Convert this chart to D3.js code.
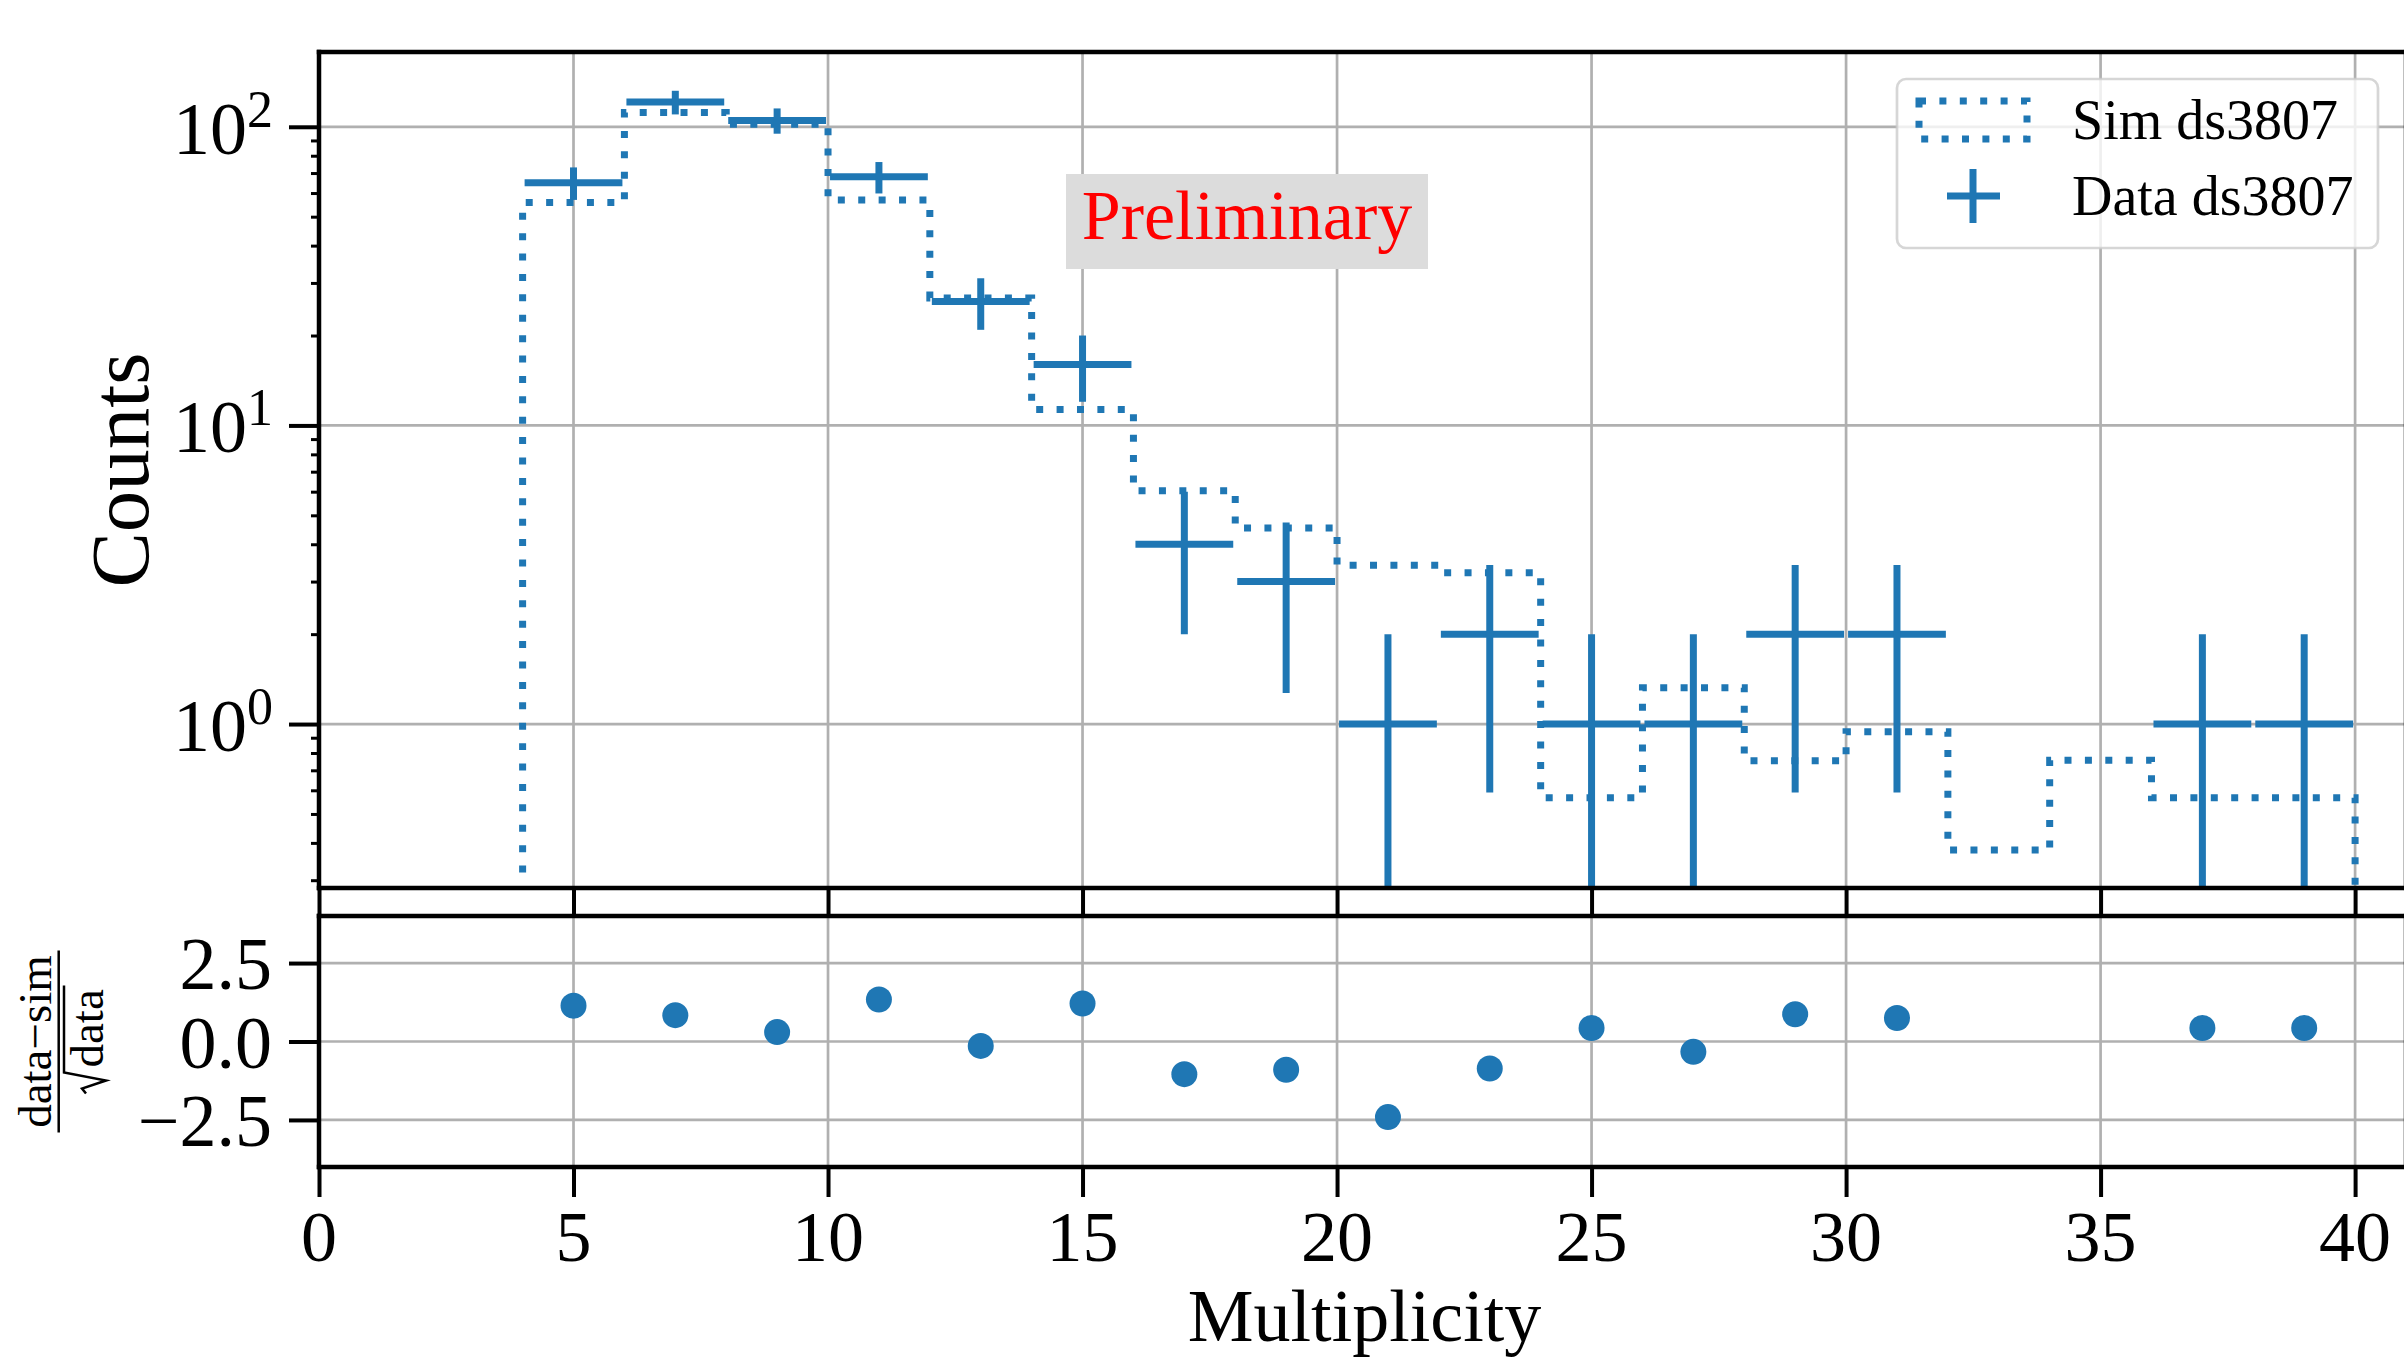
<!DOCTYPE html>
<html>
<head>
<meta charset="utf-8">
<script src="https://cdn.jsdelivr.net/npm/d3@7/dist/d3.min.js"></script>
<style>
  body { margin: 0; background: #fff; }
  svg { display: block; font-family: "Liberation Serif", "DejaVu Serif", serif; }
</style>
</head>
<body>
<svg id="chart" width="2404" height="1358"></svg>
<script>
// bins are 2 wide, centred on odd multiplicities
const binCenters = [5, 7, 9, 11, 13, 15, 17, 19, 21, 23, 25, 27, 29, 31, 33, 35, 37, 39];
const binHalfWidth = 1;
const dataCounts = [65, 121, 105, 68, 26, 16, 4, 3, 1, 2, 1, 1, 2, 2, 0, 0, 1, 1];
const dataErrors = [8.1, 11, 10.2, 8.2, 5.1, 4, 2, 1.73, 1, 1.41, 1, 1, 1.41, 1.41, 0, 0, 1, 1];
const simCounts = [55.8, 111.7, 102, 56.9, 26.7, 11.3, 6.04, 4.53, 3.40, 3.21, 0.567, 1.323, 0.754, 0.943, 0.379, 0.756, 0.567, 0.567];
const residuals = [1.14, 0.84, 0.30, 1.34, -0.14, 1.21, -1.04, -0.90, -2.41, -0.86, 0.43, -0.33, 0.87, 0.75, null, null, 0.43, 0.43];

const xTicks = [0, 5, 10, 15, 20, 25, 30, 35, 40];
const logTicks = [1, 10, 100];
const logTickExp = ["0", "1", "2"];
const logMinor = [0.3, 0.4, 0.5, 0.6, 0.7, 0.8, 0.9, 2, 3, 4, 5, 6, 7, 8, 9, 20, 30, 40, 50, 60, 70, 80, 90];
const resTicks = [-2.5, 0, 2.5];
const resTickLabels = ["\u22122.5", "0.0", "2.5"];

const blue = "#1f77b4";
const gridColor = "#b0b0b0";

const svg = d3.select("#chart");

const x = d3.scaleLinear().domain([0, 41]).range([319, 2406]);
const yMain = d3.scaleLog().domain([0.2825, 178]).range([888, 52]);
const yRes = d3.scaleLinear().domain([-4, 4]).range([1167, 916]);

const mainTop = yMain.range()[1], mainBottom = yMain.range()[0];
const resTop = yRes.range()[1], resBottom = yRes.range()[0];
const left = x.range()[0], right = x.range()[1];

const defs = svg.append("defs");
defs.append("clipPath").attr("id", "clipMain")
  .append("rect").attr("x", left).attr("y", mainTop)
  .attr("width", right - left).attr("height", mainBottom - mainTop);
defs.append("clipPath").attr("id", "clipRes")
  .append("rect").attr("x", left).attr("y", resTop)
  .attr("width", right - left).attr("height", resBottom - resTop);

// ---- grids
function vGrid(top, bottom) {
  svg.append("g").selectAll("line").data(xTicks).join("line")
    .attr("x1", d => x(d)).attr("x2", d => x(d))
    .attr("y1", top).attr("y2", bottom)
    .attr("stroke", gridColor).attr("stroke-width", 2.7);
}
vGrid(mainTop, mainBottom);
vGrid(resTop, resBottom);

svg.append("g").selectAll("line").data(logTicks).join("line")
  .attr("x1", left).attr("x2", right)
  .attr("y1", d => yMain(d)).attr("y2", d => yMain(d))
  .attr("stroke", gridColor).attr("stroke-width", 2.7);

svg.append("g").selectAll("line").data(resTicks).join("line")
  .attr("x1", left).attr("x2", right)
  .attr("y1", d => yRes(d)).attr("y2", d => yRes(d))
  .attr("stroke", gridColor).attr("stroke-width", 2.7);

// ---- simulation step histogram (dotted)
const base = 0.01;
const stepPts = [{ x: binCenters[0] - binHalfWidth, y: base }];
binCenters.forEach((c, i) => stepPts.push({ x: c - binHalfWidth, y: simCounts[i] }));
stepPts.push({ x: binCenters[binCenters.length - 1] + binHalfWidth, y: simCounts[simCounts.length - 1] });
stepPts.push({ x: binCenters[binCenters.length - 1] + binHalfWidth, y: base });

const stepLine = d3.line()
  .x(d => x(d.x))
  .y(d => yMain(d.y))
  .curve(d3.curveStepAfter);

const gMain = svg.append("g").attr("clip-path", "url(#clipMain)");

gMain.append("path")
  .attr("d", stepLine(stepPts))
  .attr("fill", "none")
  .attr("stroke", blue)
  .attr("stroke-width", 7)
  .attr("stroke-dasharray", "7 13.4");

// ---- data error bars
const dataPts = binCenters.map((c, i) => ({ c: c, n: dataCounts[i], e: dataErrors[i] }))
  .filter(d => d.n > 0);

gMain.append("g").selectAll("line").data(dataPts).join("line")
  .attr("x1", d => x(d.c - binHalfWidth) + 2)
  .attr("x2", d => x(d.c + binHalfWidth) - 2)
  .attr("y1", d => yMain(d.n)).attr("y2", d => yMain(d.n))
  .attr("stroke", blue).attr("stroke-width", 7);

gMain.append("g").selectAll("line").data(dataPts).join("line")
  .attr("x1", d => x(d.c)).attr("x2", d => x(d.c))
  .attr("y1", d => yMain(d.n + d.e))
  .attr("y2", d => yMain(Math.max(d.n - d.e, yMain.domain()[0] * 0.5)))
  .attr("stroke", blue).attr("stroke-width", 7);

// ---- residuals
const resPts = binCenters.map((c, i) => ({ c: c, r: residuals[i] })).filter(d => d.r !== null);
svg.append("g").attr("clip-path", "url(#clipRes)")
  .selectAll("circle").data(resPts).join("circle")
  .attr("cx", d => x(d.c)).attr("cy", d => yRes(d.r))
  .attr("r", 13).attr("fill", blue);

// ---- spines
function spine(x1, y1, x2, y2) {
  svg.append("line").attr("x1", x1).attr("y1", y1).attr("x2", x2).attr("y2", y2)
    .attr("stroke", "#000").attr("stroke-width", 4.5).attr("stroke-linecap", "square");
}
spine(left, mainTop, right, mainTop);
spine(left, mainTop, left, mainBottom);
spine(left, mainBottom, right, mainBottom);
spine(right, mainTop, right, mainBottom);
spine(left, resTop, right, resTop);
spine(left, resTop, left, resBottom);
spine(left, resBottom, right, resBottom);
spine(right, resTop, right, resBottom);

// ---- ticks
function cleanAxis(g, w) {
  g.select(".domain").remove();
  g.selectAll(".tick line").attr("stroke", "#000").attr("stroke-width", w);
}

svg.append("g").attr("transform", `translate(${left},0)`)
  .call(d3.axisLeft(yMain).tickValues(logTicks).tickSize(30).tickFormat(""))
  .call(g => cleanAxis(g, 4));
svg.append("g").attr("transform", `translate(${left},0)`)
  .call(d3.axisLeft(yMain).tickValues(logMinor).tickSize(8).tickFormat(""))
  .call(g => cleanAxis(g, 3));
svg.append("g").attr("transform", `translate(0,${mainBottom})`)
  .call(d3.axisBottom(x).tickValues(xTicks).tickSize(28).tickFormat(""))
  .call(g => cleanAxis(g, 4));
svg.append("g").attr("transform", `translate(${left},0)`)
  .call(d3.axisLeft(yRes).tickValues(resTicks).tickSize(30).tickFormat(""))
  .call(g => cleanAxis(g, 4));
svg.append("g").attr("transform", `translate(0,${resBottom})`)
  .call(d3.axisBottom(x).tickValues(xTicks).tickSize(30).tickFormat(""))
  .call(g => cleanAxis(g, 4));

// ---- tick labels
const logLabels = svg.append("g").selectAll("text").data(logTicks).join("text")
  .attr("x", 273).attr("y", d => yMain(d) + 27)
  .attr("text-anchor", "end").attr("font-size", 74)
  .text("10");
logLabels.append("tspan")
  .attr("dy", -27).attr("font-size", 52)
  .text((d, i) => logTickExp[i]);

svg.append("g").selectAll("text").data(resTicks).join("text")
  .attr("x", 272).attr("y", d => yRes(d) + 26)
  .attr("text-anchor", "end").attr("font-size", 74)
  .text((d, i) => resTickLabels[i]);

svg.append("g").selectAll("text").data(xTicks).join("text")
  .attr("x", d => x(d)).attr("y", 1261)
  .attr("text-anchor", "middle").attr("font-size", 72)
  .text(d => d);

// ---- axis titles
svg.append("text")
  .attr("x", (left + right) / 2 + 2).attr("y", 1341)
  .attr("text-anchor", "middle").attr("font-size", 74)
  .text("Multiplicity");

svg.append("text")
  .attr("transform", `translate(148,${(mainTop + mainBottom) / 2}) rotate(-90)`)
  .attr("text-anchor", "middle").attr("font-size", 83)
  .text("Counts");

const frac = svg.append("g")
  .attr("transform", `translate(0,${(resTop + resBottom) / 2}) rotate(-90)`);
frac.append("text").attr("x", 0).attr("y", 51)
  .attr("text-anchor", "middle").attr("font-size", 47)
  .text("data\u2212sim");
frac.append("line").attr("x1", -91).attr("x2", 91).attr("y1", 58.7).attr("y2", 58.7)
  .attr("stroke", "#000").attr("stroke-width", 2.5);
frac.append("path")
  .attr("d", "M-52,86 L-47,82 L-39,106 L-31,64 L56,64")
  .attr("fill", "none").attr("stroke", "#000").attr("stroke-width", 2.5);
frac.append("text").attr("x", -26).attr("y", 103)
  .attr("font-size", 47)
  .text("data");

// ---- legend
const legend = svg.append("g");
legend.append("rect")
  .attr("x", 1897).attr("y", 79).attr("width", 481).attr("height", 169)
  .attr("rx", 9)
  .attr("fill", "#fff").attr("fill-opacity", 0.8)
  .attr("stroke", "#cccccc").attr("stroke-opacity", 0.8).attr("stroke-width", 2.7);
legend.append("rect")
  .attr("x", 1919).attr("y", 101).attr("width", 108).attr("height", 38)
  .attr("fill", "none").attr("stroke", blue).attr("stroke-width", 7)
  .attr("stroke-dasharray", "7 13.4");
legend.append("line").attr("x1", 1947).attr("x2", 2000).attr("y1", 196).attr("y2", 196)
  .attr("stroke", blue).attr("stroke-width", 7);
legend.append("line").attr("x1", 1973).attr("x2", 1973).attr("y1", 169).attr("y2", 223)
  .attr("stroke", blue).attr("stroke-width", 7);
legend.append("text").attr("x", 2072).attr("y", 139).attr("font-size", 56).text("Sim ds3807");
legend.append("text").attr("x", 2072).attr("y", 215).attr("font-size", 56).text("Data ds3807");

// ---- preliminary stamp
svg.append("rect")
  .attr("x", 1066).attr("y", 174).attr("width", 362).attr("height", 95)
  .attr("fill", "#dcdcdc");
svg.append("text")
  .attr("x", 1247).attr("y", 239)
  .attr("text-anchor", "middle").attr("font-size", 70)
  .attr("fill", "#ff0000")
  .text("Preliminary");
</script>
</body>
</html>
